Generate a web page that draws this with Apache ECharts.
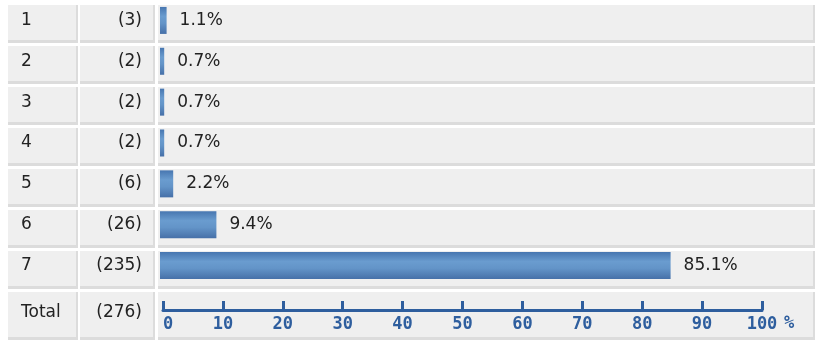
<!DOCTYPE html>
<html>
<head>
<meta charset="utf-8">
<script src="https://cdn.jsdelivr.net/npm/echarts@6/dist/echarts.min.js"></script>
<style>
  html, body { margin: 0; padding: 0; background: #fff; }
  #chart { width: 819px; height: 343px; }
</style>
</head>
<body>
<div id="chart"></div>
<script>
// answers, counts and percentages per row
var rows = ['1', '2', '3', '4', '5', '6', '7'];
var counts = [3, 2, 2, 2, 6, 26, 235];
var percents = [1.1, 0.7, 0.7, 0.7, 2.2, 9.4, 85.1];
var totalName = 'Total';
var totalCount = 276;

var chart = echarts.init(document.getElementById('chart'));

// table cell backgrounds (layout only)
var cols = [[8, 70], [80, 75], [158, 657]];
var cells = [];
function cell(x, y, w, h) {
  cells.push({ type: 'rect', z: -10, shape: { x: x, y: y, width: w, height: h }, style: { fill: '#dcdcdc' } });
  cells.push({ type: 'rect', z: -9, shape: { x: x, y: y, width: w - 2, height: h - 3 }, style: { fill: '#efefef' } });
}
for (var r = 0; r < rows.length; r++) {
  cols.forEach(function (c) { cell(c[0], 5 + 41 * r, c[1], 38); });
}
cols.forEach(function (c) { cell(c[0], 292, c[1], 48); });

var txt = { fontFamily: 'DejaVu Sans', fontSize: 17, color: '#222' };
var blue = '#2e5e9e';

chart.setOption({
  animation: false,
  graphic: cells,
  grid: [
    { left: 160, top: -1, width: 600, height: 287 },
    { left: 163, top: 290, width: 599, height: 45 }
  ],
  xAxis: [
    { gridIndex: 0, type: 'value', min: 0, max: 100, show: false },
    {
      gridIndex: 1, type: 'value', min: 0, max: 100, interval: 10,
      position: 'bottom', offset: -25,
      axisLine: { show: true, lineStyle: { color: blue, width: 3 } },
      axisTick: { show: true, inside: true, length: 9, lineStyle: { color: blue, width: 3 } },
      splitLine: { show: false },
      axisLabel: {
        margin: 6, color: blue, fontFamily: 'DejaVu Sans Mono', fontWeight: 'bold', fontSize: 17,
        showMinLabel: true, showMaxLabel: true,
        formatter: function (v) { return v === 0 ? '{z|0}' : String(v); },
        rich: { z: { color: blue, fontFamily: 'DejaVu Sans Mono', fontWeight: 'bold', fontSize: 17, padding: [0, 0, 0, 10] } }
      },
      name: '\n%', nameLocation: 'end', nameGap: 22,
      nameTextStyle: { color: blue, fontFamily: 'DejaVu Sans Mono', fontWeight: 'bold', fontSize: 17, lineHeight: 27, verticalAlign: 'middle' }
    }
  ],
  yAxis: [
    {
      gridIndex: 0, type: 'category', data: rows, inverse: true,
      axisLine: { show: false }, axisTick: { show: false },
      axisLabel: Object.assign({ align: 'left', margin: 139 }, txt)
    },
    {
      gridIndex: 0, type: 'category', data: counts.map(function (c) { return '(' + c + ')'; }),
      inverse: true, position: 'left',
      axisLine: { show: false }, axisTick: { show: false },
      axisLabel: Object.assign({ align: 'right', margin: 18 }, txt)
    },
    {
      gridIndex: 1, type: 'category', data: [totalName],
      axisLine: { show: false }, axisTick: { show: false },
      axisLabel: Object.assign({ align: 'left', margin: 142 }, txt)
    },
    {
      gridIndex: 1, type: 'category', data: ['(' + totalCount + ')'], position: 'left',
      axisLine: { show: false }, axisTick: { show: false },
      axisLabel: Object.assign({ align: 'right', margin: 21 }, txt)
    }
  ],
  series: [
    {
      type: 'bar', xAxisIndex: 0, yAxisIndex: 0, data: percents, barWidth: 27,
      itemStyle: {
        color: new echarts.graphic.LinearGradient(0, 0, 0, 1, [
          { offset: 0, color: '#4776b0' },
          { offset: 0.35, color: '#6a9ccf' },
          { offset: 0.6, color: '#6394c8' },
          { offset: 1, color: '#4670a8' }
        ])
      },
      label: {
        show: true, position: 'right', distance: 13,
        fontFamily: 'DejaVu Sans', fontSize: 17, color: '#222',
        formatter: function (p) { return p.value.toFixed(1) + '%'; }
      }
    }
  ]
});
</script>
</body>
</html>
